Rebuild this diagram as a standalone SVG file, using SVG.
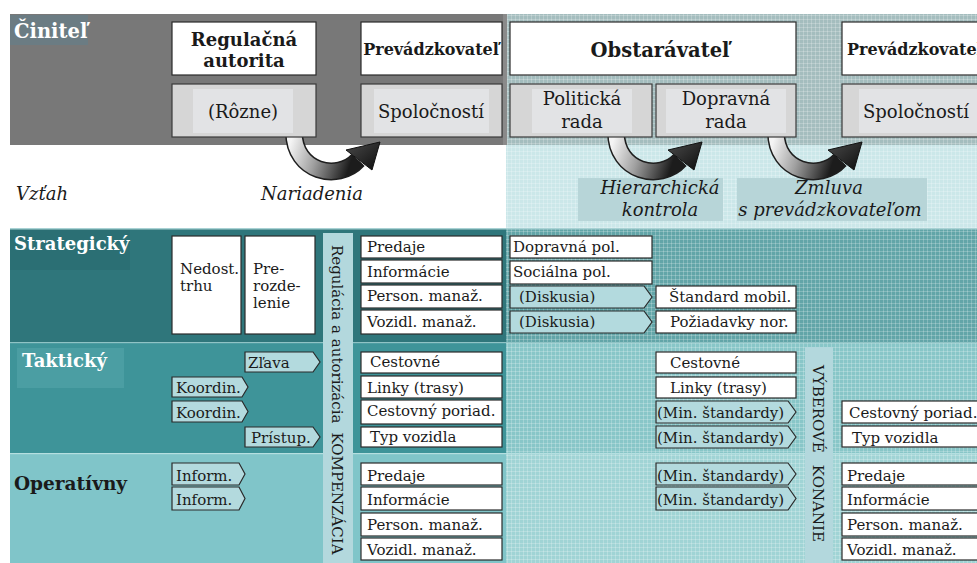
<svg xmlns="http://www.w3.org/2000/svg" width="977" height="563" viewBox="0 0 977 563">
<style>
text{font-family:"DejaVu Serif","Liberation Serif",serif;fill:#1a1a1a;}
.t{font-size:15px;}
.tb{font-size:18px;font-weight:bold;}
.hw{font-size:18px;font-weight:bold;fill:#ffffff;}
.it{font-size:18px;font-style:italic;}
.mid{text-anchor:middle;}
.box{fill:#ffffff;stroke:#2a2a2a;stroke-width:1.2;}
.gbox{fill:#d6d6d6;stroke:#3a3a3a;stroke-width:1.2;}
.ginner{fill:#e2e3e5;}
.chev{fill:#b3dade;stroke:#2a2a2a;stroke-width:1.2;}
.strip{fill:#b3d8dd;}
.g18{font-size:18px;}
</style>
<defs>
<pattern id="grid" width="4" height="4" patternUnits="userSpaceOnUse">
<path d="M3.5 0V4M0 3.5H4" stroke="#ffffff" stroke-opacity="0.22" stroke-width="1" fill="none"/>
</pattern>
<linearGradient id="ag" x1="0" y1="0" x2="1" y2="0.2">
<stop offset="0" stop-color="#f4f4f4"/>
<stop offset="0.45" stop-color="#a0a0a0"/>
<stop offset="1" stop-color="#1c1c1c"/>
</linearGradient>
<linearGradient id="hg" x1="0" y1="0" x2="1" y2="1">
<stop offset="0" stop-color="#4a4a4a"/>
<stop offset="1" stop-color="#0e0e0e"/>
</linearGradient>
<g id="carrow">
<path d="M294 132 C294 172 338 182 358 160" fill="none" stroke="#1e1e1e" stroke-width="18"/>
<path d="M294 132 C294 172 338 182 358 160" fill="none" stroke="url(#ag)" stroke-width="15"/>
<polygon points="346,150 380,142 372,170" fill="url(#hg)" stroke="#111" stroke-width="1"/>
</g>
</defs>

<!-- backgrounds -->
<rect x="0" y="0" width="977" height="563" fill="#ffffff"/>
<rect x="10" y="14" width="496" height="131" fill="#787878"/>
<rect x="10" y="15" width="78" height="30" fill="#6b7c83"/>
<rect x="506" y="14" width="471" height="131" fill="#a4bdbe"/>
<rect x="506" y="14" width="471" height="131" fill="url(#grid)"/>
<rect x="503" y="14" width="4" height="131" fill="#8a8a8a"/>
<rect x="506" y="145" width="471" height="83" fill="#cbe7e9"/>
<rect x="506" y="145" width="471" height="83" fill="url(#grid)"/>
<rect x="578" y="178" width="145" height="43" fill="#b7d5d8"/>
<rect x="737" y="178" width="190" height="43" fill="#b7d5d8"/>

<rect x="10" y="228" width="967" height="335" fill="#9fd2d4"/>
<rect x="10" y="229" width="496" height="113" fill="#2f767b"/>
<rect x="506" y="229" width="471" height="113" fill="#62a5a8"/>
<rect x="10" y="343" width="496" height="110" fill="#3e9499"/>
<rect x="506" y="343" width="471" height="110" fill="#88c6c8"/>
<rect x="10" y="454" width="496" height="109" fill="#80c5c9"/>
<rect x="506" y="454" width="471" height="109" fill="#a0d4d5"/>
<rect x="506" y="229" width="471" height="334" fill="url(#grid)"/>
<rect x="10" y="228" width="967" height="1.5" fill="#a9d2d4"/>
<rect x="10" y="342" width="967" height="1.2" fill="#8fc3c5"/>
<rect x="10" y="453" width="967" height="1.2" fill="#b5dfe0"/>
<rect x="10" y="230" width="120" height="40" fill="#2b6f74"/>
<rect x="17" y="348" width="107" height="40" fill="#4b9ea3"/>

<!-- connectors -->
<g id="connectors">
<use href="#carrow"/>
<use href="#carrow" transform="translate(322,0)"/>
<use href="#carrow" transform="translate(482,0)"/>
</g>

<!-- header labels -->
<g id="hdr-cinitel"><text class="hw" x="14" y="38" style="font-size:19.5px">Činiteľ</text></g>
<g id="lbl-vztah"><text class="it" x="16" y="200">Vzťah</text></g>
<g id="lbl-nariadenia"><text class="it mid" x="312" y="200">Nariadenia</text></g>
<g id="lbl-hier"><text class="it mid" x="660" y="194">Hierarchická</text><text class="it mid" x="660" y="216">kontrola</text></g>
<g id="lbl-zmluva"><text class="it mid" x="829" y="194">Zmluva</text><text class="it mid" x="830" y="216">s prevádzkovateľom</text></g>

<g id="reg-aut"><rect class="box" x="172" y="22" width="144" height="53"/><text class="tb mid" x="244" y="46">Regulačná</text><text class="tb mid" x="244" y="67">autorita</text></g>
<g id="rozne"><rect class="gbox" x="172" y="84" width="144" height="53"/><rect class="ginner" x="193" y="89" width="100" height="44"/><text class="g18 mid" x="243" y="118">(Rôzne)</text></g>
<g id="prev1"><rect class="box" x="361" y="22" width="141" height="53"/><text class="tb mid" x="431" y="55" style="font-size:16px">Prevádzkovateľ</text></g>
<g id="spol1"><rect class="gbox" x="361" y="84" width="141" height="53"/><rect class="ginner" x="374" y="89" width="115" height="44"/><text class="g18 mid" x="431" y="118">Spoločností</text></g>
<g id="obst"><rect class="box" x="510" y="22" width="286" height="53"/><text class="tb mid" x="660" y="57" style="font-size:19.5px">Obstarávateľ</text></g>
<g id="polrada"><rect class="gbox" x="510" y="84" width="142" height="53"/><rect class="ginner" x="532" y="89" width="100" height="44"/><text class="g18 mid" x="582" y="105">Politická</text><text class="g18 mid" x="582" y="128">rada</text></g>
<g id="doprada"><rect class="gbox" x="656" y="84" width="140" height="53"/><rect class="ginner" x="666" y="89" width="120" height="44"/><text class="g18 mid" x="726" y="105">Dopravná</text><text class="g18 mid" x="726" y="128">rada</text></g>
<g id="prev2"><rect class="box" x="842" y="22" width="145" height="53"/><text class="tb" x="847" y="55" style="font-size:16px">Prevádzkovateľ</text></g>
<g id="spol2"><rect class="gbox" x="842" y="84" width="145" height="53"/><rect class="ginner" x="859" y="89" width="118" height="44"/><text class="g18" x="863" y="118">Spoločností</text></g>

<!-- row labels -->
<g id="row-strat"><text class="hw" x="14" y="250">Strategický</text></g>
<g id="row-takt"><text class="hw" x="22" y="367">Taktický</text></g>
<g id="row-oper"><text class="tb" x="14" y="490" style="font-size:18.5px">Operatívny</text></g>

<!-- vertical strips -->
<g id="strip-reg"><rect class="strip" x="323" y="233" width="30" height="330"/>
<text class="t" transform="translate(332,245) rotate(90)">Regulácia a autorizácia<tspan dx="9">KOMPENZÁCIA</tspan></text></g>
<g id="strip-vyb"><rect class="strip" x="805" y="347" width="28" height="216"/>
<text class="t" transform="translate(813,365) rotate(90)">VÝBEROVÉ<tspan dx="12">KONANIE</tspan></text></g>

<!-- strategic -->
<g id="nedost"><rect class="box" x="172" y="236" width="69" height="98"/><text class="t" x="180" y="274">Nedost.</text><text class="t" x="180" y="291">trhu</text></g>
<g id="prerozd"><rect class="box" x="245" y="236" width="70" height="98"/><text class="t" x="253" y="274">Pre-</text><text class="t" x="253" y="291">rozde-</text><text class="t" x="253" y="308">lenie</text></g>
<g id="s-predaje"><rect class="box" x="361" y="236" width="141" height="22"/><text class="t" x="367" y="252">Predaje</text></g>
<g id="s-info"><rect class="box" x="361" y="260" width="141" height="23"/><text class="t" x="367" y="277">Informácie</text></g>
<g id="s-person"><rect class="box" x="361" y="285" width="141" height="23"/><text class="t" x="367" y="301">Person. manaž.</text></g>
<g id="s-vozidl"><rect class="box" x="361" y="310" width="141" height="24"/><text class="t" x="367" y="327">Vozidl. manaž.</text></g>
<g id="s-doprpol"><rect class="box" x="510" y="236" width="142" height="22"/><text class="t" x="513" y="252">Dopravná pol.</text></g>
<g id="s-socpol"><rect class="box" x="510" y="261" width="142" height="23"/><text class="t" x="513" y="277">Sociálna pol.</text></g>
<g id="s-disk1"><polygon class="chev" points="510,286 644,286 652,297 644,308 510,308"/><text class="t" x="519" y="302">(Diskusia)</text></g>
<g id="s-disk2"><polygon class="chev" points="510,311 644,311 652,322 644,333 510,333"/><text class="t" x="519" y="327">(Diskusia)</text></g>
<g id="s-standard"><rect class="box" x="656" y="286" width="140" height="22"/><text class="t" x="669" y="302">Štandard mobil.</text></g>
<g id="s-poziad"><rect class="box" x="656" y="311" width="140" height="22"/><text class="t" x="670" y="327">Požiadavky nor.</text></g>

<!-- tactical -->
<g id="t-zlava"><polygon class="chev" points="245,352 313,352 320,362 313,372 245,372"/><text class="t" x="248" y="368">Zľava</text></g>
<g id="t-koord1"><polygon class="chev" points="172,377 242,377 248,387 242,397 172,397"/><text class="t" x="176" y="393">Koordin.</text></g>
<g id="t-koord2"><polygon class="chev" points="172,401 242,401 248,411.5 242,422 172,422"/><text class="t" x="176" y="418">Koordin.</text></g>
<g id="t-pristup"><polygon class="chev" points="245,427 313,427 320,437 313,447 245,447"/><text class="t" x="251" y="443">Prístup.</text></g>
<g id="t-cest"><rect class="box" x="361" y="352" width="141" height="21"/><text class="t" x="370" y="367">Cestovné</text></g>
<g id="t-linky"><rect class="box" x="361" y="376" width="141" height="22"/><text class="t" x="367" y="393">Linky (trasy)</text></g>
<g id="t-cestpor"><rect class="box" x="361" y="400" width="141" height="24"/><text class="t" x="367" y="416">Cestovný poriad.</text></g>
<g id="t-typ"><rect class="box" x="361" y="427" width="141" height="20"/><text class="t" x="370" y="442">Typ vozidla</text></g>
<g id="t-cest2"><rect class="box" x="656" y="352" width="140" height="21"/><text class="t" x="670" y="368">Cestovné</text></g>
<g id="t-linky2"><rect class="box" x="656" y="377" width="140" height="21"/><text class="t" x="670" y="393">Linky (trasy)</text></g>
<g id="t-min1"><polygon class="chev" points="656,401 788,401 796,412 788,423 656,423"/><text class="t" x="657" y="418">(Min. štandardy)</text></g>
<g id="t-min2"><polygon class="chev" points="656,426 788,426 796,437 788,448 656,448"/><text class="t" x="657" y="443">(Min. štandardy)</text></g>
<g id="t-cestpor3"><rect class="box" x="842" y="401" width="145" height="22"/><text class="t" x="849" y="418">Cestovný poriad.</text></g>
<g id="t-typ3"><rect class="box" x="842" y="426" width="145" height="21"/><text class="t" x="852" y="443">Typ vozidla</text></g>

<!-- operational -->
<g id="o-inform1"><polygon class="chev" points="172,463 239,463 245,474 239,485 172,485"/><text class="t" x="176" y="481">Inform.</text></g>
<g id="o-inform2"><polygon class="chev" points="172,487 239,487 245,498.5 239,510 172,510"/><text class="t" x="176" y="505">Inform.</text></g>
<g id="o-predaje"><rect class="box" x="361" y="463" width="141" height="22"/><text class="t" x="367" y="481">Predaje</text></g>
<g id="o-info"><rect class="box" x="361" y="487" width="141" height="23"/><text class="t" x="367" y="505">Informácie</text></g>
<g id="o-person"><rect class="box" x="361" y="513" width="141" height="23"/><text class="t" x="367" y="530">Person. manaž.</text></g>
<g id="o-vozidl"><rect class="box" x="361" y="538" width="141" height="22"/><text class="t" x="367" y="555">Vozidl. manaž.</text></g>
<g id="o-min1"><polygon class="chev" points="656,463 788,463 796,474 788,485 656,485"/><text class="t" x="657" y="481">(Min. štandardy)</text></g>
<g id="o-min2"><polygon class="chev" points="656,487 788,487 796,498.5 788,510 656,510"/><text class="t" x="657" y="505">(Min. štandardy)</text></g>
<g id="o-predaje3"><rect class="box" x="842" y="463" width="145" height="22"/><text class="t" x="847" y="481">Predaje</text></g>
<g id="o-info3"><rect class="box" x="842" y="487" width="145" height="23"/><text class="t" x="847" y="505">Informácie</text></g>
<g id="o-person3"><rect class="box" x="842" y="513" width="145" height="23"/><text class="t" x="847" y="530">Person. manaž.</text></g>
<g id="o-vozidl3"><rect class="box" x="842" y="538" width="145" height="22"/><text class="t" x="847" y="555">Vozidl. manaž.</text></g>
</svg>
